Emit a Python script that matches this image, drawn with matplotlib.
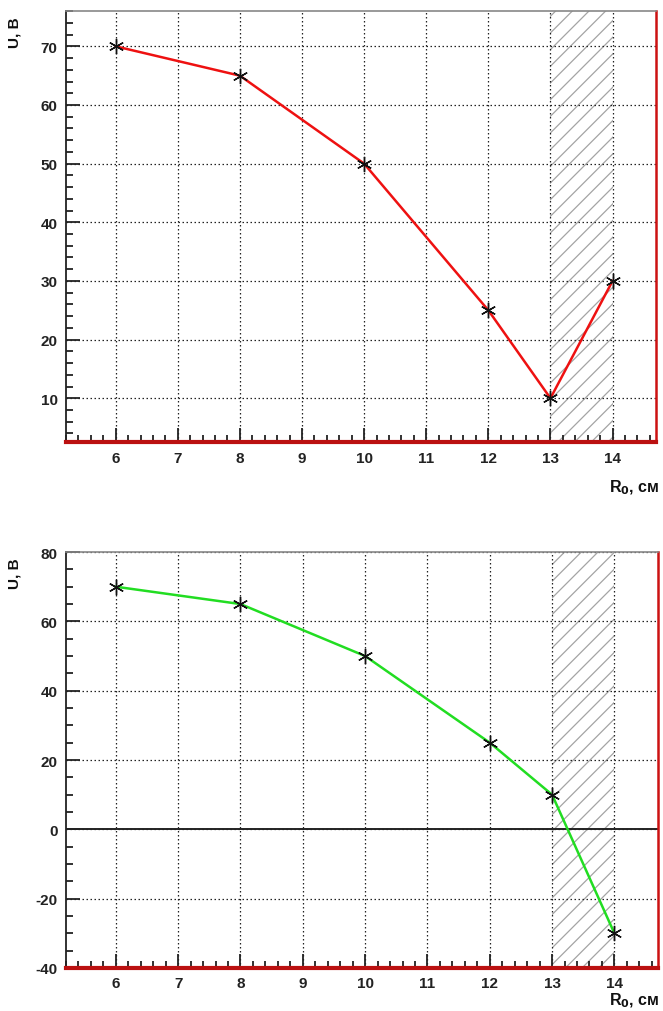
import matplotlib
matplotlib.use("Agg")
import matplotlib.pyplot as plt
from matplotlib.ticker import MultipleLocator, FixedLocator

plt.rcParams['font.family'] = ['Liberation Sans', 'DejaVu Sans']
plt.rcParams['axes.unicode_minus'] = False
plt.rcParams['hatch.color'] = '#a4a4a4'
plt.rcParams['hatch.linewidth'] = 0.9

# Measured data
r0_cm = [6, 8, 10, 12, 13, 14]
u_top = [70, 65, 50, 25, 10, 30]
u_bottom = [70, 65, 50, 25, 10, -30]
x_ticks = [6, 7, 8, 9, 10, 11, 12, 13, 14]
shade_span = (13, 14)

fig = plt.figure(figsize=(6.63, 10.12), dpi=100)
ax1 = fig.add_axes([0.0995, 0.562, 0.89, 0.426])
ax2 = fig.add_axes([0.0995, 0.0425, 0.893, 0.411])

def style(ax, ylim, ymajor, yminor, color, yvals):
    ax.set_xlim(5.2, 14.7)
    ax.set_ylim(*ylim)
    ax.axvspan(*shade_span, facecolor='none', edgecolor='#a4a4a4', hatch='//', lw=0, zorder=1)
    ax.plot(r0_cm, yvals, color=color, lw=1.8, zorder=3)
    ax.plot(r0_cm, yvals, ls='none', marker=(6, 2, 0), ms=11, mec='#111111', mew=1.0, zorder=4)
    ax.xaxis.set_major_locator(FixedLocator(x_ticks))
    ax.xaxis.set_minor_locator(MultipleLocator(0.2))
    ax.yaxis.set_major_locator(MultipleLocator(ymajor))
    ax.yaxis.set_minor_locator(MultipleLocator(yminor))
    ax.grid(True, which='major', ls=(0, (1.2, 2.0)), color='#222222', lw=0.9, zorder=0)
    ax.tick_params(which='both', direction='in', top=False, right=False,
                   labelsize=11, colors='#222222', width=1.3)
    ax.tick_params(which='major', length=10, pad=6)
    ax.tick_params(which='minor', length=5)
    ax.spines['left'].set_color('#222222')
    ax.spines['left'].set_linewidth(1.3)
    ax.spines['top'].set_color('#888888')
    ax.spines['top'].set_linewidth(1.2)
    ax.spines['right'].set_color('#cc1111')
    ax.spines['right'].set_linewidth(1.8)
    ax.spines['bottom'].set_color('#bb1111')
    ax.spines['bottom'].set_linewidth(3.0)

style(ax1, (2.5, 76), 10, 2, '#ee1111', u_top)
ax1.set_yticks([10, 20, 30, 40, 50, 60, 70])
style(ax2, (-40, 80), 20, 5, '#22dd22', u_bottom)
ax2.axhline(0, color='#222222', lw=1.4, zorder=2)

for ax in (ax1, ax2):
    for lab in ax.get_xticklabels() + ax.get_yticklabels():
        lab.set_fontweight('bold')

for ytop in (0.988, 0.453):
    fig.text(0.022, ytop - 0.005, 'U, В', rotation=90, ha='center', va='top',
             fontsize=11, fontweight='bold', color='#111111')

for ylab in (0.518, 0.011):
    fig.text(0.995, ylab, 'R$_\\mathbf{0}$, см', ha='right', va='center',
             fontsize=11.5, fontweight='bold', color='#111111')

fig.savefig('out.png', dpi=100)
